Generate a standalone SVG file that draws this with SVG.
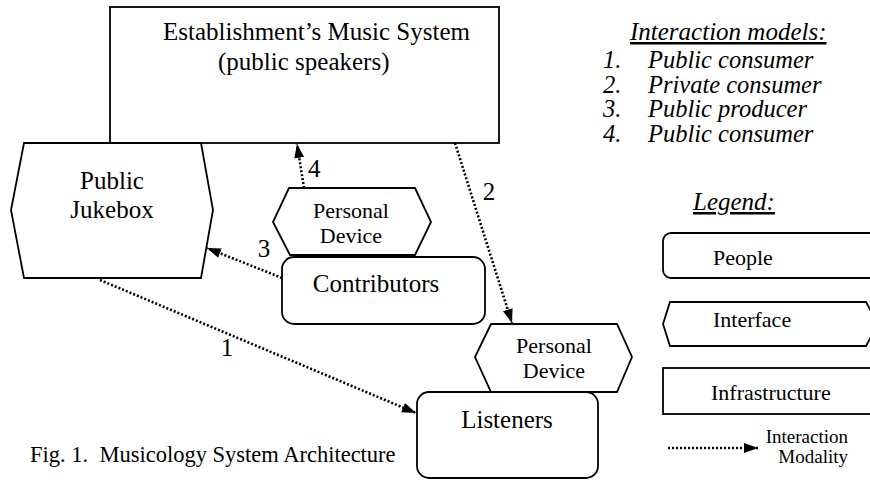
<svg xmlns="http://www.w3.org/2000/svg" width="870" height="481" viewBox="0 0 870 481">
<style>
text{font-family:"Liberation Serif","Times New Roman",serif;fill:#000}
.shape{fill:#fff;stroke:#000;stroke-width:1.8}
.conn{fill:none;stroke:#000;stroke-width:2.6;stroke-dasharray:2 2}
.c{text-anchor:middle}
.big{font-size:25px}
.mid{font-size:22px}
.it{font-style:italic}
.lst{font-size:24.5px;font-style:italic}
</style>
<defs>
<marker id="ah" markerUnits="userSpaceOnUse" markerWidth="15" markerHeight="11" refX="14" refY="5" orient="auto">
<path d="M0,0 L14,5 L0,10 z" fill="#000"/>
</marker>
</defs>
<rect width="870" height="481" fill="#fff"/>

<g id="music-system">
<rect class="shape" x="110" y="7" width="389" height="136"/>
<text class="big" x="163" y="40">Establishment’s Music System</text>
<text class="big" x="218" y="70">(public speakers)</text>
</g>

<g id="public-jukebox">
<polygon class="shape" points="24,143 201,143 213,210 201,278 24,278 11,210"/>
<text class="big c" x="112" y="189">Public</text>
<text class="big c" x="112" y="218">Jukebox</text>
</g>

<g id="personal-device-1">
<polygon class="shape" points="289,188 415,188 431,222 415,255 290,255 273,222"/>
<text class="mid c" x="351" y="218">Personal</text>
<text class="mid c" x="351" y="243">Device</text>
</g>

<g id="contributors">
<rect class="shape" x="282" y="257" width="203" height="67" rx="12"/>
<text class="big c" x="376" y="292">Contributors</text>
</g>

<g id="personal-device-2">
<polygon class="shape" points="491,324 617,324 632,357 617,392 491,392 475,357"/>
<text class="mid c" x="554" y="353">Personal</text>
<text class="mid c" x="554" y="378">Device</text>
</g>

<g id="listeners">
<rect class="shape" x="417" y="392" width="181" height="86" rx="12"/>
<text class="big c" x="507" y="428">Listeners</text>
</g>

<g id="connectors">
<line class="conn" x1="304" y1="188" x2="297" y2="144" marker-end="url(#ah)"/>
<line class="conn" x1="282" y1="278" x2="207" y2="248" marker-end="url(#ah)"/>
<line class="conn" x1="100" y1="280" x2="416" y2="413" marker-end="url(#ah)"/>
<line class="conn" x1="455" y1="143" x2="512" y2="323" marker-end="url(#ah)"/>
<text class="big" x="308" y="177">4</text>
<text class="big c" x="264" y="257">3</text>
<text class="big c" x="227" y="356">1</text>
<text class="big c" x="489" y="200">2</text>
</g>

<g id="interaction-models">
<text class="big it" x="630" y="40" text-decoration="underline">Interaction models:</text>
<text class="lst" x="603" y="68">1.</text>
<text class="lst" x="648" y="68">Public consumer</text>
<text class="lst" x="603" y="92.5">2.</text>
<text class="lst" x="648" y="92.5">Private consumer</text>
<text class="lst" x="603" y="117">3.</text>
<text class="lst" x="648" y="117">Public producer</text>
<text class="lst" x="603" y="141.5">4.</text>
<text class="lst" x="648" y="141.5">Public consumer</text>
</g>

<g id="legend">
<text class="big it" x="693" y="210" text-decoration="underline">Legend:</text>
<rect class="shape" x="663" y="233" width="240" height="45" rx="8"/>
<text class="mid" x="713" y="265">People</text>
<polygon class="shape" points="663,324 670,302 866,302 878,324 866,346 670,346"/>
<text class="mid" x="713" y="327">Interface</text>
<rect class="shape" x="663" y="368" width="240" height="46"/>
<text class="mid" x="711" y="400">Infrastructure</text>
<line class="conn" x1="668" y1="448" x2="758" y2="448" marker-end="url(#ah)"/>
<text x="848" y="443" font-size="19" text-anchor="end">Interaction</text>
<text x="848" y="463" font-size="19" text-anchor="end">Modality</text>
</g>

<text x="30" y="462" font-size="22.5">Fig. 1.&#160; Musicology System Architecture</text>
</svg>
